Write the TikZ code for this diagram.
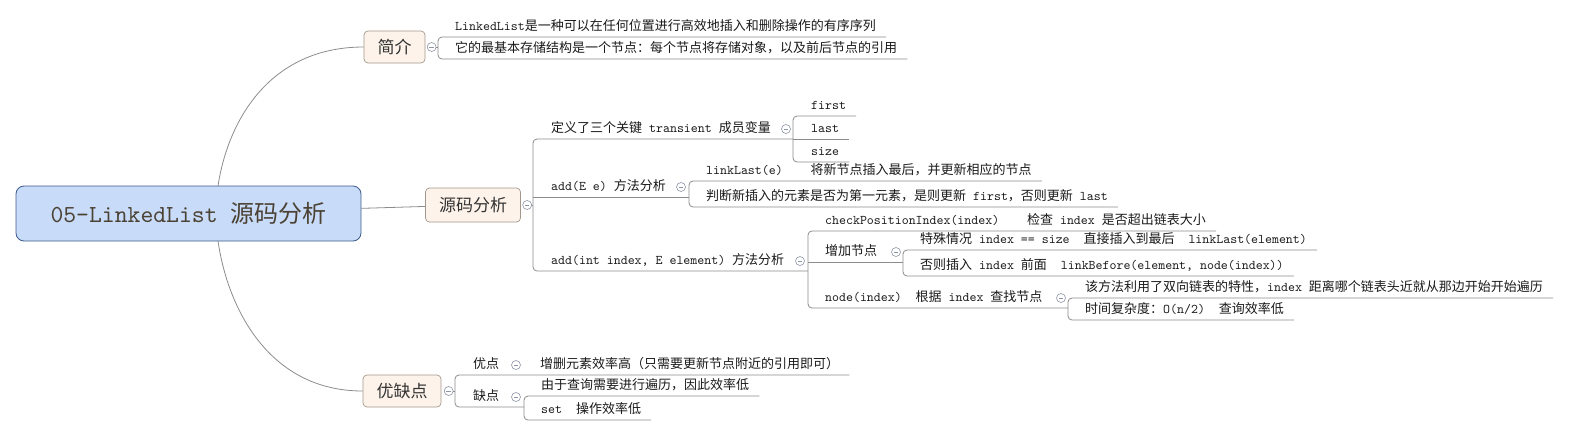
\documentclass[tikz,border=0pt]{standalone}
\usepackage{fontspec}
\setmainfont{Noto Sans CJK SC}
\setmonofont{lmmono10-regular.otf}[Scale=1.02]
\usepackage{xcolor}
\usetikzlibrary{positioning}

\definecolor{linegray}{HTML}{8C8C8C}
\definecolor{rootfill}{HTML}{C8DBF8}
\definecolor{rootline}{HTML}{3E5B8C}
\definecolor{roottext}{HTML}{4B4234}
\definecolor{topicfill}{HTML}{FDF3EA}
\definecolor{topicline}{HTML}{A3978B}
\definecolor{topictext}{HTML}{333333}
\definecolor{leaftext}{HTML}{1A1A1A}
\definecolor{foldgray}{HTML}{8E95A6}

% leaf topic: name, spine x, line y, text x, text
\newcommand\leaf[5]{%
  \coordinate (#1-l) at (#2,#3);
  \node[leaf] (#1) at (#4,#3-7) {#5};
  \coordinate (#1-r) at ([xshift=10pt,yshift=-7pt]#1.base east);
}

\begin{document}
\begin{tikzpicture}[x=1pt,y=-1pt,
  conn/.style={draw=linegray,line width=0.8pt},
  root/.style={draw=rootline,fill=rootfill,rounded corners=8pt,line width=0.8pt,
    minimum width=345pt,minimum height=55pt,text=roottext,font=\fontsize{24}{28}\selectfont},
  topic/.style={draw=topicline,fill=topicfill,rounded corners=4pt,line width=0.7pt,
    minimum height=32pt,inner xsep=13.5pt,text=topictext,font=\fontsize{17}{20}\selectfont},
  leaf/.style={anchor=base west,inner sep=0pt,text=leaftext,font=\fontsize{13}{15}\selectfont},
  fold/.style={circle,draw=foldgray,fill=white,line width=0.6pt,minimum size=9pt,inner sep=0pt,
    path picture={\draw[foldgray,line width=0.6pt]
      ([xshift=-2.2pt]path picture bounding box.center) -- ([xshift=2.2pt]path picture bounding box.center);}}]
\useasboundingbox (0,0) rectangle (1576,437);

% root and main topics
\node[root] (root) at (188.5,213.5) {\texttt{05-LinkedList }源码分析};
\node[topic] (intro) at (394.5,47) {简介};
\node[topic,minimum height=34pt] (src) at (473,205) {源码分析};
\node[topic] (pros) at (402,391) {优缺点};

\coordinate (rt) at (218,186);
\coordinate (rb) at (218,241);
\draw[conn] (rt) .. controls (228,120) and (270,47) .. (intro.west);
\draw[conn] (root) -- (src);
\draw[conn] (rb) .. controls (228,310) and (270,391) .. (pros.west);

% 简介
\leaf{i1}{438}{37}{455}{\texttt{LinkedList}是一种可以在任何位置进行高效地插入和删除操作的有序序列}
\leaf{i2}{438}{59}{455}{它的最基本存储结构是一个节点：每个节点将存储对象，以及前后节点的引用}

% 源码分析
\leaf{s1}{533}{139}{551}{定义了三个关键\texttt{ transient }成员变量}
\leaf{s2}{533}{197}{551}{\texttt{add(E e) }方法分析}
\leaf{s3}{533}{271}{551}{\texttt{add(int index, E element) }方法分析}

\leaf{f1}{793}{116}{811}{\texttt{first}}
\leaf{f2}{793}{139}{811}{\texttt{last}}
\leaf{f3}{793}{162}{811}{\texttt{size}}

\leaf{e1}{689}{181}{706}{\texttt{linkLast(e)~~~~}将新节点插入最后，并更新相应的节点}
\leaf{e2}{689}{207}{706}{判断新插入的元素是否为第一元素，是则更新\texttt{ first}，否则更新\texttt{ last}}

\leaf{a1}{808}{231}{825}{\texttt{checkPositionIndex(index)~~~~}检查\texttt{ index }是否超出链表大小}
\leaf{a2}{808}{262}{825}{增加节点}
\leaf{a3}{808}{308}{825}{\texttt{node(index)~~}根据\texttt{ index }查找节点}

\leaf{b1}{903}{250}{920}{特殊情况\texttt{ index == size~~}直接插入到最后\texttt{~~linkLast(element)}}
\leaf{b2}{903}{276}{920}{否则插入\texttt{ index }前面\texttt{~~linkBefore(element, node(index))}}

\leaf{c1}{1068}{298}{1085}{该方法利用了双向链表的特性，\texttt{index }距离哪个链表头近就从那边开始开始遍历}
\leaf{c2}{1068}{320}{1085}{时间复杂度：\texttt{O(n/2)~~}查询效率低}

% 优缺点
\leaf{p1}{455}{375}{473}{优点}
\leaf{p2}{455}{407}{473}{缺点}
\leaf{q1}{524}{375}{540}{增删元素效率高（只需要更新节点附近的引用即可）}
\leaf{k1}{524}{396}{541}{由于查询需要进行遍历，因此效率低}
\leaf{k2}{524}{420}{541}{\texttt{set~~}操作效率低}

% brackets
\draw[conn,rounded corners=4pt] (i1-r) -- (i1-l) -- (i2-l) -- (i2-r);
\draw[conn,rounded corners=4pt] (s1-l -| f1-l) -- (s1-l) -- (s3-l) -- (s3-l -| a1-l);
\draw[conn] (s2-l) -- (s2-l -| e1-l);
\draw[conn,rounded corners=4pt] (f1-r) -- (f1-l) -- (f3-l) -- (f3-r);
\draw[conn] (f2-l) -- (f2-r);
\draw[conn,rounded corners=4pt] (e1-r) -- (e1-l) -- (e2-l) -- (e2-r);
\draw[conn,rounded corners=4pt] (a1-r) -- (a1-l) -- (a3-l) -- (a3-l -| c1-l);
\draw[conn] (a2-l) -- (a2-l -| b1-l);
\draw[conn,rounded corners=4pt] (b1-r) -- (b1-l) -- (b2-l) -- (b2-r);
\draw[conn,rounded corners=4pt] (c1-r) -- (c1-l) -- (c2-l) -- (c2-r);
\draw[conn,rounded corners=4pt] (q1-r) -- (p1-l) -- (p2-l) -- (p2-l -| k1-l);
\draw[conn,rounded corners=4pt] (k1-r) -- (k1-l) -- (k2-l) -- (k2-r);

% fold markers
\node[fold,right=1.5pt of intro] (fi) {};
\node[fold,right=1.5pt of src] (fs) {};
\node[fold,right=2.5pt of pros] (fp) {};
\draw[conn] (fi.east) -- (fi.east -| i1-l);
\draw[conn] (fs.east) -- (fs.east -| s1-l);
\draw[conn] (fp.east) -- (fp.east -| p1-l);
\node[fold] (fd) at (786,129) {};
\node[fold] (fe) at (681,187) {};
\node[fold] (fa) at (800,261) {};
\node[fold] (fb) at (896,252) {};
\node[fold] (fc) at (1061,298) {};
\node[fold] (fy) at (516,365) {};
\node[fold] (fq) at (516,397) {};
\end{tikzpicture}
\end{document}
